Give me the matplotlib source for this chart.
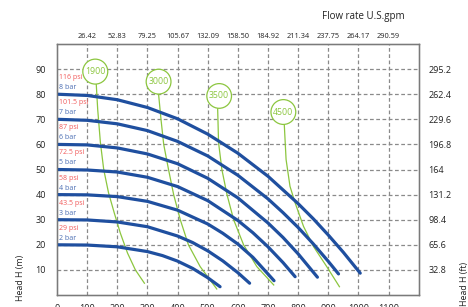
import matplotlib
matplotlib.use("Agg")
import matplotlib.pyplot as plt

plt.rcParams["font.family"] = ["Open Sans", "DejaVu Sans"]

BLUE  = "#1f4f9f"
GREEN = "#8cc63f"
RED   = "#f15a5a"
LBLUE = "#4a6db3"
GRID  = "#8a8a8a"

# pump curves: flow (l/min) vs head (m), one per air pressure
FLOW_2BAR = [0, 100, 200, 300, 350, 400, 450, 500, 541]
HEAD_2BAR = [20, 19.9, 19.2, 17.3, 15.7, 13.5, 10.6, 6.9, 3.3]
FLOW_3BAR = [0, 100, 200, 300, 400, 450, 500, 550, 600, 639]
HEAD_3BAR = [30, 29.9, 29.1, 27.2, 23.5, 20.9, 17.6, 13.6, 8.9, 4.7]
FLOW_4BAR = [0, 100, 200, 300, 400, 500, 550, 600, 650, 720]
HEAD_4BAR = [40, 39.9, 39.2, 37.3, 33.8, 28.3, 24.6, 20.3, 15.0, 5.7]
FLOW_5BAR = [0, 100, 200, 300, 400, 500, 600, 650, 700, 750, 790]
HEAD_5BAR = [50, 49.8, 49.0, 46.9, 43.2, 37.6, 29.7, 24.8, 19.2, 12.9, 7.3]
FLOW_6BAR = [0, 100, 200, 300, 400, 500, 600, 700, 750, 800, 864]
HEAD_6BAR = [60, 59.8, 58.6, 56.2, 52.3, 46.5, 38.7, 28.7, 22.9, 16.4, 7.1]
FLOW_7BAR = [0, 100, 200, 300, 400, 500, 600, 700, 750, 800, 850, 900, 934]
HEAD_7BAR = [70, 69.6, 68.2, 65.5, 61.2, 55.4, 47.7, 38.3, 32.8, 26.9, 20.4, 13.4, 8.4]
FLOW_8BAR = [0, 100, 200, 300, 400, 500, 600, 700, 800, 850, 900, 950, 1006]
HEAD_8BAR = [80, 79.5, 77.8, 74.7, 70.2, 64.1, 56.5, 47.3, 36.4, 30.4, 23.9, 17.0, 8.7]

BAR_LABELS = ["2 bar", "3 bar", "4 bar", "5 bar", "6 bar", "7 bar", "8 bar"]
PSI_LABELS = ["29 psi", "43.5 psi", "58 psi", "72.5 psi", "87 psi", "101.5 psi", "116 psi"]

# speed lines, first point = label circle
SPEEDS = ["1900", "3000", "3500", "4500"]
FLOW_1900 = [127, 130, 135, 144, 155, 171, 190, 210, 234, 260, 290]
HEAD_1900 = [89, 84.5, 74, 60.7, 50, 40.7, 32.7, 24.7, 16.7, 10, 4.7]
FLOW_3000 = [337, 337, 345, 354, 370, 387, 409, 436, 475, 530]
HEAD_3000 = [85, 80, 70, 60, 50, 40, 30, 20, 11.3, 2.4]
FLOW_3500 = [538, 533, 536, 547, 564, 586, 619, 663, 719]
HEAD_3500 = [79.3, 74.3, 60.7, 50, 40, 30, 20, 11.3, 4]
FLOW_4500 = [751, 754, 760, 773, 790, 818, 851, 895, 937]
HEAD_4500 = [72.9, 68, 54, 43.3, 36.7, 27.3, 19.3, 11.3, 3.3]

X_TICKS   = [0, 100, 200, 300, 400, 500, 600, 700, 800, 900, 1000, 1100]
GPM_TICKS = [100, 200, 300, 400, 500, 600, 700, 800, 900, 1000, 1100]
GPM_LABELS = ["26.42", "52.83", "79.25", "105.67", "132.09", "158.50",
              "184.92", "211.34", "237.75", "264.17", "290.59"]
H_TICKS   = [10, 20, 30, 40, 50, 60, 70, 80, 90]
FT_LABELS = ["32.8", "65.6", "98.4", "131.2", "164", "196.8", "229.6", "262.4", "295.2"]

W, H = 468, 307
fig = plt.figure(figsize=(W / 100, H / 100), dpi=100)
ax = fig.add_axes([57 / W, 12 / H, 361.7 / W, 251 / H])
ax.set_xlim(0, 1200)
ax.set_ylim(0, 100)

for x in X_TICKS[1:]:
    ax.axvline(x, color=GRID, lw=0.9, ls=(0, (3, 2)), zorder=1)
for y in H_TICKS:
    ax.axhline(y, color=GRID, lw=0.9, ls=(0, (3, 2)), zorder=1)

flows = [FLOW_2BAR, FLOW_3BAR, FLOW_4BAR, FLOW_5BAR, FLOW_6BAR, FLOW_7BAR, FLOW_8BAR]
heads = [HEAD_2BAR, HEAD_3BAR, HEAD_4BAR, HEAD_5BAR, HEAD_6BAR, HEAD_7BAR, HEAD_8BAR]
for fl, hd, bar, psi in zip(flows, heads, BAR_LABELS, PSI_LABELS):
    ax.plot(fl, hd, color=BLUE, lw=2.3, solid_capstyle="round",
            solid_joinstyle="round", zorder=4)
    ax.text(6, hd[0] + 2.6, bar, color=LBLUE, fontsize=5, va="center", zorder=5)
    ax.text(6, hd[0] + 6.6, psi, color=RED, fontsize=5, va="center", zorder=5)

sflows = [FLOW_1900, FLOW_3000, FLOW_3500, FLOW_4500]
sheads = [HEAD_1900, HEAD_3000, HEAD_3500, HEAD_4500]
for fl, hd, sp in zip(sflows, sheads, SPEEDS):
    ax.plot(fl, hd, color=GREEN, lw=0.9, zorder=3)
    ax.text(fl[0], hd[0], sp, color=GREEN, fontsize=6.3, ha="center", va="center",
            zorder=6, bbox=dict(boxstyle="circle,pad=0.26", fc="white", ec=GREEN, lw=0.9))

ax.set_xticks(X_TICKS)
ax.set_yticks(H_TICKS)
ax.tick_params(length=0, labelsize=6.5, colors="#222222")
ax.tick_params(axis="y", pad=8)
ax.tick_params(axis="x", pad=6.5)
for s in ax.spines.values():
    s.set_color("#7a7a7a")
    s.set_linewidth(1.0)

top = ax.twiny()
top.set_xlim(ax.get_xlim())
top.set_xticks(GPM_TICKS)
top.set_xticklabels(GPM_LABELS)
top.tick_params(length=0, labelsize=5.3, pad=3, colors="#222222")

right = ax.twinx()
right.set_ylim(ax.get_ylim())
right.set_yticks(H_TICKS)
right.set_yticklabels(FT_LABELS)
right.tick_params(length=0, labelsize=6.5, pad=7, colors="#222222")
for a in (top, right):
    for s in a.spines.values():
        s.set_color("#7a7a7a")

fig.text(405 / W, 1 - 17 / H, "Flow rate U.S.gpm", fontsize=7, ha="right", va="center",
         color="#222222")
fig.text(21 / W, 1 - 278 / H, "Head H (m)", fontsize=6.3, rotation=90,
         ha="center", va="center", color="#222222")
fig.text(465 / W, 1 - 284 / H, "Head H (ft)", fontsize=6.3, rotation=90,
         ha="center", va="center", color="#222222")

fig.savefig("out.png", dpi=100)
